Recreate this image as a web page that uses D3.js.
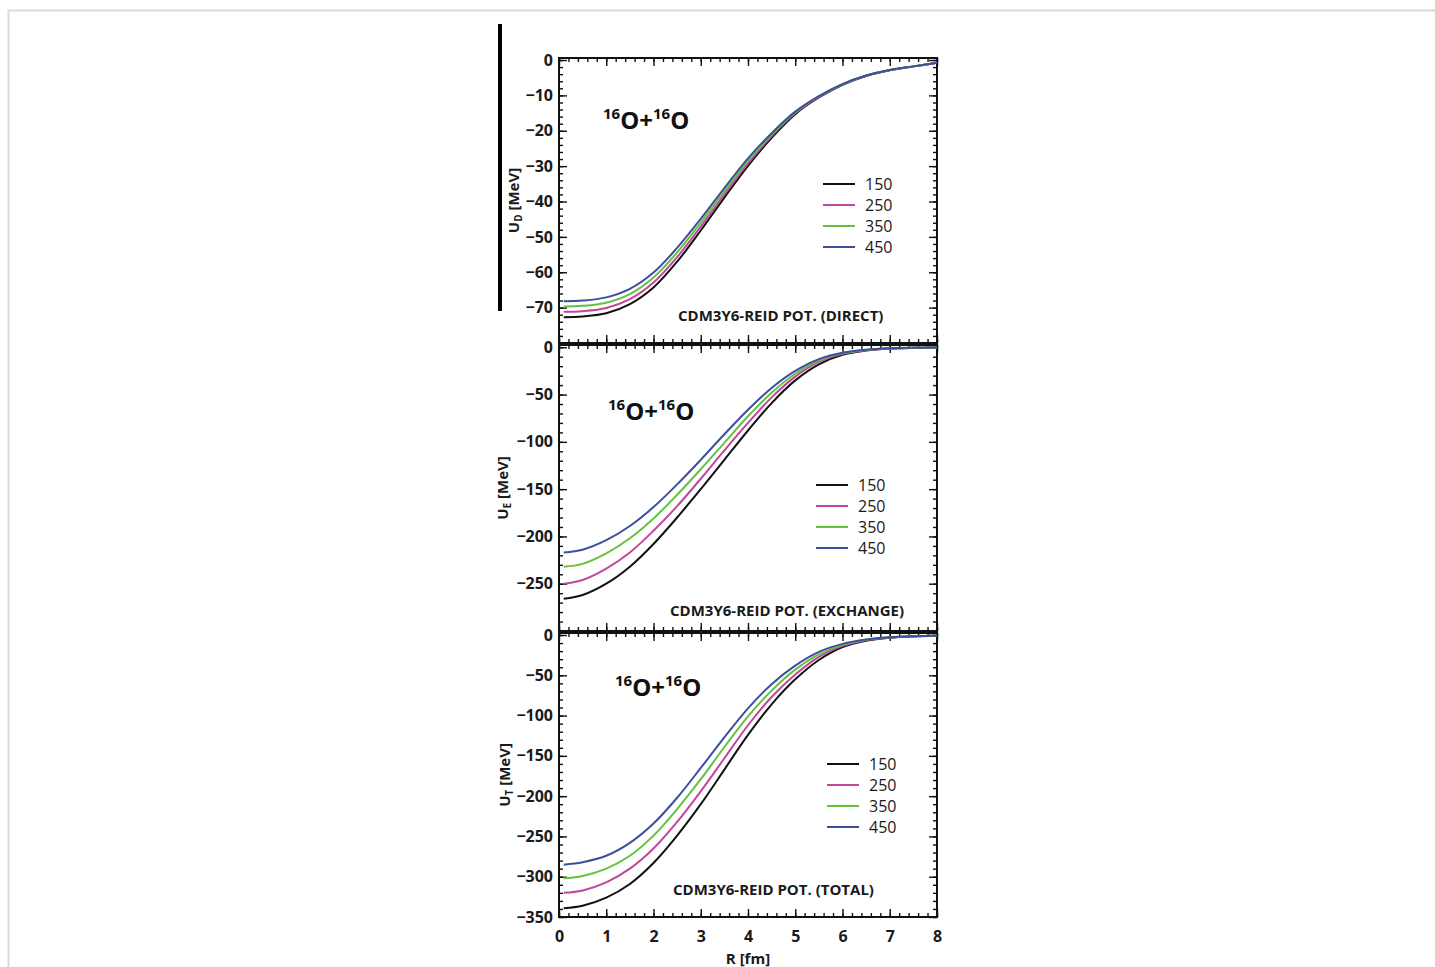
<!DOCTYPE html>
<html>
<head>
<meta charset="utf-8">
<script src="https://cdn.jsdelivr.net/npm/d3@7"></script>
<style>
  body { margin: 0; background: #fff; }
  svg { display: block; font-family: "Open Sans", sans-serif; }
</style>
</head>
<body>
<div id="chart"></div>
<script>
// Beam energies (MeV/nucleon) and line colours
const energies = ["150", "250", "350", "450"];
const colors = ["#111111", "#c2469d", "#63c23e", "#3c4f9f"];

// Radius grid (fm)
const radius = [0.1, 0.5, 1.0, 1.5, 2.0, 2.5, 3.0, 3.5, 4.0, 4.5, 5.0, 5.5, 6.0, 6.5, 7.0, 7.5, 8.0];

// Direct part U_D (MeV)
const direct150 = [-72.7, -72.5, -71.6, -69.0, -64.3, -57.0, -48.2, -38.9, -29.9, -22.0, -15.3, -10.6, -7.0, -4.5, -2.9, -1.8, -0.8];
const direct250 = [-71.2, -71.0, -70.1, -67.6, -62.9, -55.7, -47.1, -38.0, -29.2, -21.5, -15.0, -10.4, -6.9, -4.45, -2.85, -1.8, -0.8];
const direct350 = [-69.7, -69.5, -68.6, -66.2, -61.5, -54.4, -46.0, -37.1, -28.5, -21.1, -14.8, -10.3, -6.85, -4.4, -2.85, -1.8, -0.8];
const direct450 = [-68.2, -68.0, -67.1, -64.7, -60.1, -53.1, -44.9, -36.2, -27.8, -20.7, -14.6, -10.2, -6.8, -4.4, -2.8, -1.8, -0.8];

// Exchange part U_E (MeV)
const exchange150 = [-266, -262, -250, -232, -208, -180, -150, -119, -88, -59, -35, -18, -8, -3.5, -1.4, -0.6, -0.3];
const exchange250 = [-250, -246, -234, -217, -194, -168, -139, -109, -80, -53, -31, -15.5, -7, -3.1, -1.3, -0.55, -0.3];
const exchange350 = [-232, -229, -218, -202, -181, -156, -129, -101, -73, -48, -28, -14, -6.4, -2.8, -1.15, -0.5, -0.3];
const exchange450 = [-217, -214, -204, -189, -169, -145, -119, -92, -66, -43, -25, -12.5, -5.8, -2.6, -1.05, -0.5, -0.3];

// Total U_T (MeV)
const total150 = [-339, -336, -326, -309, -283, -249, -210, -167, -124, -86, -55, -31, -15, -7, -3.3, -1.7, -1.0];
const total250 = [-320, -317, -307, -290, -265, -232, -194, -153, -112, -77, -49, -27, -13.5, -6.4, -3.0, -1.6, -1.0];
const total350 = [-302, -299, -290, -274, -249, -216, -179, -139, -101, -69, -43, -24, -12.2, -6.0, -2.9, -1.55, -1.0];
const total450 = [-285, -282, -274, -258, -234, -202, -165, -127, -91, -61, -38, -21, -11, -5.6, -2.8, -1.5, -1.0];

// X axis ticks
const xMajor = d3.range(0, 9, 1);
const xMinor = d3.range(0, 8.01, 0.2);

const width = 1435, height = 967;

const svg = d3.select("#chart").append("svg")
    .attr("width", width)
    .attr("height", height);

// light page frame
svg.append("rect")
    .attr("x", 8.5).attr("y", 10.5)
    .attr("width", 1440).attr("height", 1000)
    .attr("fill", "none")
    .attr("stroke", "#dadada")
    .attr("stroke-width", 2);

// black bar at the left of the top panel
svg.append("rect")
    .attr("x", 498).attr("y", 24)
    .attr("width", 4).attr("height", 287)
    .attr("fill", "#000");

const x = d3.scaleLinear().domain([0, 8]).range([559, 937]);

const panels = [
    {
        series: [direct150, direct250, direct350, direct450],
        top: 58, bottom: 343, domain: [-80, 0.57],
        major: 10, minor: 2, labelMin: -70,
        sub: "D", titleX: 514,
        note: "CDM3Y6-REID POT. (DIRECT)", noteX: 678, noteY: 321,
        reactX: 603, reactY: 129,
        legX: 823, legY: 184
    },
    {
        series: [exchange150, exchange250, exchange350, exchange450],
        top: 345, bottom: 631, domain: [-300, 2.4],
        major: 50, minor: 10, labelMin: -250,
        sub: "E", titleX: 503,
        note: "CDM3Y6-REID POT. (EXCHANGE)", noteX: 670, noteY: 616,
        reactX: 608, reactY: 420,
        legX: 816, legY: 485
    },
    {
        series: [total150, total250, total350, total450],
        top: 633, bottom: 917, domain: [-350, 2.5],
        major: 50, minor: 10, labelMin: -350,
        sub: "T", titleX: 505,
        note: "CDM3Y6-REID POT. (TOTAL)", noteX: 673, noteY: 895,
        reactX: 615, reactY: 696,
        legX: 827, legY: 764
    }
];

function styleAxis(g) {
    g.select(".domain").remove();
    g.selectAll(".tick line").attr("stroke", "#111").attr("stroke-width", 1.4);
    g.selectAll("text")
        .attr("font-family", "Open Sans")
        .attr("font-size", 16)
        .attr("font-weight", 700)
        .attr("fill", "#1a1a1a");
}

panels.forEach((p, pi) => {
    const y = d3.scaleLinear().domain(p.domain).range([p.bottom, p.top]);
    const yMajor = d3.range(p.domain[0], 0.01, p.major);
    const yMinor = d3.range(p.domain[0], 0.01, p.minor);
    const g = svg.append("g");

    // minor ticks
    g.append("g").attr("transform", `translate(${x(0)},0)`)
        .call(d3.axisLeft(y).tickValues(yMinor).tickSize(-4).tickFormat(""))
        .call(styleAxis);
    g.append("g").attr("transform", `translate(${x(8)},0)`)
        .call(d3.axisRight(y).tickValues(yMinor).tickSize(-4).tickFormat(""))
        .call(styleAxis);
    g.append("g").attr("transform", `translate(0,${p.top})`)
        .call(d3.axisTop(x).tickValues(xMinor).tickSize(-4).tickFormat(""))
        .call(styleAxis);
    g.append("g").attr("transform", `translate(0,${p.bottom})`)
        .call(d3.axisBottom(x).tickValues(xMinor).tickSize(-4).tickFormat(""))
        .call(styleAxis);

    // major ticks with labels
    g.append("g").attr("transform", `translate(${x(0)},0)`)
        .call(d3.axisLeft(y).tickValues(yMajor).tickSize(-8).tickPadding(6)
            .tickFormat(d => d >= p.labelMin ? d3.format("d")(d).replace("-", "\u2212") : ""))
        .call(styleAxis);
    g.append("g").attr("transform", `translate(${x(8)},0)`)
        .call(d3.axisRight(y).tickValues(yMajor).tickSize(-8).tickFormat(""))
        .call(styleAxis);
    g.append("g").attr("transform", `translate(0,${p.top})`)
        .call(d3.axisTop(x).tickValues(xMajor).tickSize(-8).tickFormat(""))
        .call(styleAxis);
    g.append("g").attr("transform", `translate(0,${p.bottom})`)
        .call(d3.axisBottom(x).tickValues(xMajor).tickSize(-8).tickPadding(14)
            .tickFormat(pi === 2 ? d3.format("d") : ""))
        .call(styleAxis);

    // frame
    g.append("rect")
        .attr("x", x(0)).attr("y", p.top)
        .attr("width", x(8) - x(0)).attr("height", p.bottom - p.top)
        .attr("fill", "none")
        .attr("stroke", "#111")
        .attr("stroke-width", 2);

    // curves
    const line = d3.line()
        .x((d, i) => x(radius[i]))
        .y(d => y(d))
        .curve(d3.curveCatmullRom.alpha(0.5));

    g.selectAll(".curve")
        .data(p.series)
        .join("path")
        .attr("class", "curve")
        .attr("d", line)
        .attr("fill", "none")
        .attr("stroke", (d, i) => colors[i])
        .attr("stroke-width", 2);

    // legend
    energies.forEach((e, i) => {
        const ly = p.legY + i * 21;
        g.append("line")
            .attr("x1", p.legX).attr("x2", p.legX + 32)
            .attr("y1", ly).attr("y2", ly)
            .attr("stroke", colors[i])
            .attr("stroke-width", 2);
        g.append("text")
            .attr("x", p.legX + 42).attr("y", ly)
            .attr("dy", "0.35em")
            .attr("font-size", 16)
            .attr("fill", "#1a1a1a")
            .text(e);
    });

    // y title
    const cy = (p.top + p.bottom) / 2;
    const title = g.append("text")
        .attr("transform", `translate(${p.titleX},${cy}) rotate(-90)`)
        .attr("text-anchor", "middle")
        .attr("dy", "0.35em")
        .attr("font-size", 15)
        .attr("font-weight", 700)
        .attr("fill", "#1a1a1a");
    title.append("tspan").text("U");
    title.append("tspan").attr("font-size", 10).attr("dy", 3).text(p.sub);
    title.append("tspan").attr("dy", -3).text(" [MeV]");

    // reaction label
    const react = g.append("text")
        .attr("x", p.reactX).attr("y", p.reactY)
        .attr("font-weight", 700)
        .attr("fill", "#111");
    react.append("tspan").attr("font-size", 15).attr("dy", -10).text("16");
    react.append("tspan").attr("font-size", 24).attr("dy", 10).text("O+");
    react.append("tspan").attr("font-size", 15).attr("dy", -10).text("16");
    react.append("tspan").attr("font-size", 24).attr("dy", 10).text("O");

    // potential note
    g.append("text")
        .attr("x", p.noteX).attr("y", p.noteY)
        .attr("font-size", 15)
        .attr("font-weight", 700)
        .attr("fill", "#1a1a1a")
        .text(p.note);
});

// x title
svg.append("text")
    .attr("x", (x(0) + x(8)) / 2).attr("y", 959)
    .attr("text-anchor", "middle")
    .attr("dy", "0.35em")
    .attr("font-size", 15)
    .attr("font-weight", 700)
    .attr("fill", "#1a1a1a")
    .text("R [fm]");
</script>
</body>
</html>
